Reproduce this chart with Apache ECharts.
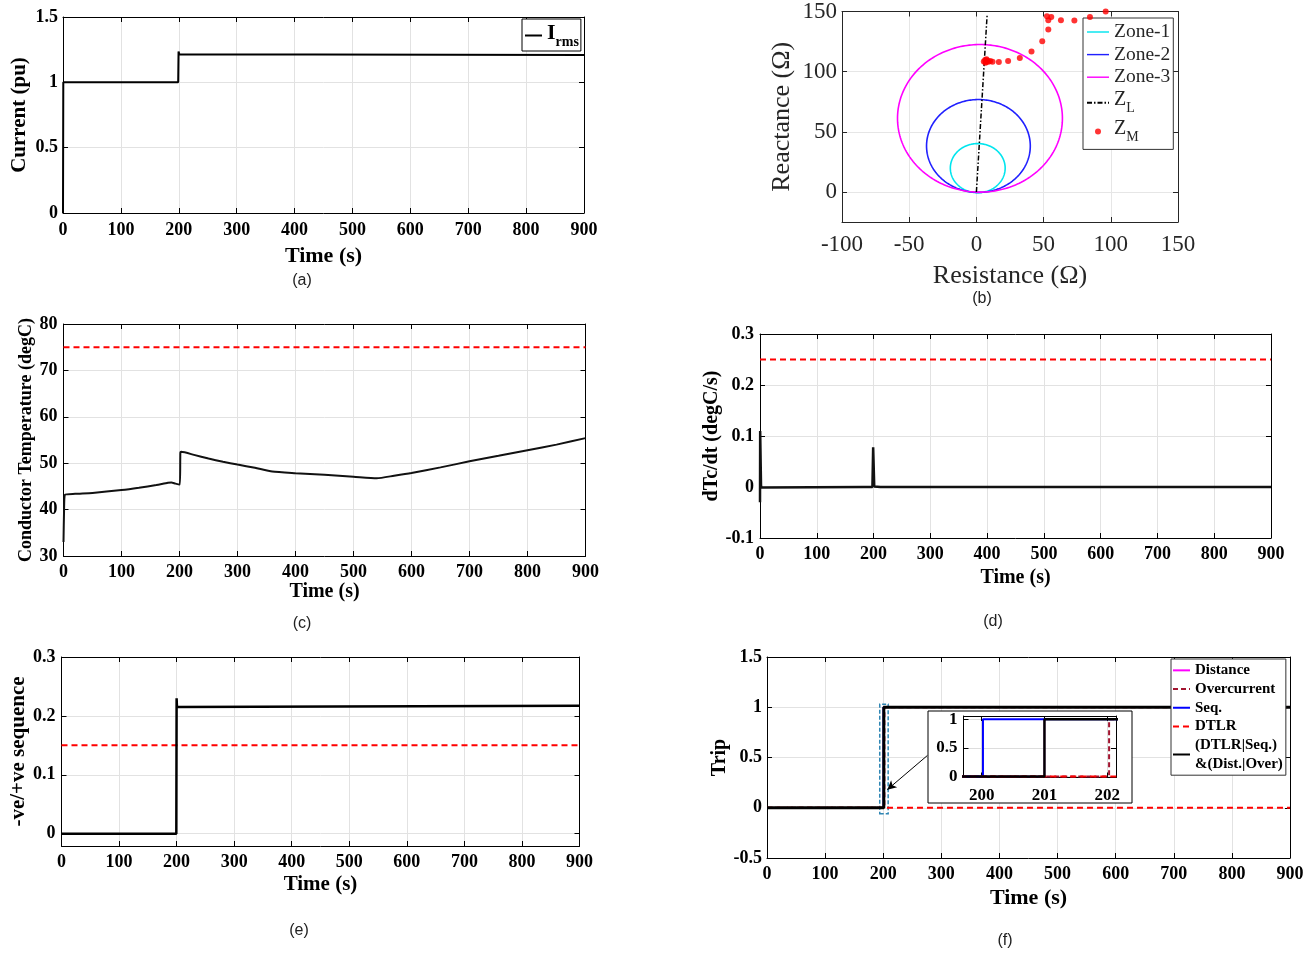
<!DOCTYPE html>
<html><head><meta charset="utf-8">
<style>html,body{margin:0;padding:0;background:#fff}#c{width:1313px;height:955px}</style>
<script src="https://cdn.jsdelivr.net/npm/echarts/dist/echarts.min.js"></script>
</head><body><div id="c"></div>
<script>
// ================= DATA =================
// common time ticks
const timeTicks = [0, 100, 200, 300, 400, 500, 600, 700, 800, 900];
// (a) RMS current
const timeA = [0, 0.5, 199, 199.6, 201, 203, 900];
const currentA = [0, 1, 1, 1.235, 1.215, 1.21, 1.21];
const ticksA = [0, 0.5, 1, 1.5];
// (b) impedance plane: mho zones [centre R, centre X, radius]
const zone1 = [1.0, 19.8, 20.4];
const zone2 = [1.5, 38.2, 38.6];
const zone3 = [2.65, 61.2, 61.35];
const lineR = [0, 8];
const lineX = [0, 147.5];
const measR = [5.5, 6.5, 7.2, 8, 9, 10.3, 7.5, 6.8, 12, 16.7, 23.6, 32.3, 41, 49, 53.5, 53.5, 52.5, 55.7, 62.9, 72.9, 84.5, 96.2];
const measX = [108.5, 109.6, 108, 109.2, 108.3, 108.8, 110.2, 107.4, 108.3, 108, 108.9, 111.4, 116.7, 125.3, 135, 142.8, 146, 145.5, 142.8, 142.5, 145.5, 150];
const ticksBx = [-100, -50, 0, 50, 100, 150];
const ticksBy = [0, 50, 100, 150];
// (c) conductor temperature
const timeC = [0, 1, 2.5, 20, 50, 100, 130, 160, 180, 186, 193, 200.5, 201.5, 203, 225, 250, 275, 300, 330, 360, 400, 450, 500, 540, 570, 600, 650, 700, 750, 800, 850, 900];
const tempC = [33, 40, 43.2, 43.4, 43.6, 44.2, 44.7, 45.3, 45.8, 45.85, 45.6, 45.4, 52.3, 52.45, 51.8, 51.0, 50.3, 49.7, 49.0, 48.2, 47.85, 47.5, 47.1, 46.75, 47.3, 47.9, 49.1, 50.4, 51.6, 52.8, 54.0, 55.4];
const tempLimit = 75;
const ticksC = [30, 40, 50, 60, 70, 80];
// (d) dTc/dt
const timeD = [0, 0.3, 0.8, 1.8, 2.6, 4, 183, 186, 190, 198, 199.3, 200.2, 201.2, 204, 212, 900];
const rateD = [-0.03, 0.11, 0.11, 0.003, -0.001, 0, 0, -0.001, 0, 0, 0.078, 0.078, 0.001, -0.001, 0, 0];
const rateLimit = 0.25;
const ticksD = [-0.1, 0, 0.1, 0.2, 0.3];
// (e) negative / positive sequence ratio
const timeE = [0, 199.5, 200, 200.6, 201.5, 900];
const seqE = [0, 0, 0.23, 0.215, 0.217, 0.217];
const seqLimit = 0.15;
const ticksE = [0, 0.1, 0.2, 0.3];
// (f) trip signals
const tDist = [0, 201, 201, 900],      vDist = [0, 0, 1, 1];
const tOver = [0, 202.03, 202.03, 900], vOver = [0, 0, 1, 1];
const tSeq = [0, 200.02, 200.02, 900],  vSeq = [0, 0, 1, 1];
const tDtlr = [0, 900],                 vDtlr = [0, 0];
const tComb = [0, 201, 201, 900],       vComb = [0, 0, 1, 1];
const ticksF = [-0.5, 0, 0.5, 1, 1.5];
const insetTicksX = [200, 201, 202];
const insetTicksY = [0, 0.5, 1];
const zoomBoxT = [194, 208.5], zoomBoxV = [-0.06, 1.03];
const arrowFrom = [276, 0.52], arrowTo = [207, 0.18];

// ================= CHART =================
const SERIF = '"Liberation Serif","Times New Roman",serif';
const SANS = '"Liberation Sans",Arial,sans-serif';
const chart = echarts.init(document.getElementById('c'), null, {width:1313, height:955});
const o = {backgroundColor:'#fff', animation:false, grid:[], xAxis:[], yAxis:[], series:[], legend:[], graphic:[]};
const zip = (a, b) => a.map((v, i) => [v, b[i]]);

function panel(p) {
  const gi = o.grid.length;
  o.grid.push({left:p.left, top:p.top, width:p.width, height:p.height, show:false});
  const xi = o.xAxis.length, yi = o.yAxis.length;
  const color = p.color || '#000', frame = p.frame || '#000';
  const w = p.weight || 'bold', f = p.font || SERIF, z = p.z || 0;
  const lab = {fontFamily:f, fontWeight:w, fontSize:p.tick, color:color};
  const nm = s => ({fontFamily:f, fontWeight:w, fontSize:s, color:color});
  const line = {show:true, onZero:false, lineStyle:{color:frame, width:1}};
  const tick = v => ({show:true, inside:true, length:5, customValues:v, lineStyle:{color:frame, width:1}});
  const split = {show:true, lineStyle:{color:p.gridColor || '#e2e2e2', width:1}};
  o.xAxis.push({type:'value', gridIndex:gi, z:z, min:p.xr[0], max:p.xr[1], position:'bottom', axisLine:line, axisTick:tick(p.xt),
    axisLabel:Object.assign({margin:p.xm, customValues:p.xt}, lab), splitLine:split,
    name:p.xn || '', nameLocation:'middle', nameGap:p.xng, nameTextStyle:nm(p.xns)});
  o.xAxis.push({type:'value', gridIndex:gi, z:z, min:p.xr[0], max:p.xr[1], position:'top', axisLine:line, axisTick:tick(p.xt),
    axisLabel:{show:false}, splitLine:{show:false}});
  o.yAxis.push({type:'value', gridIndex:gi, z:z, min:p.yr[0], max:p.yr[1], position:'left', axisLine:line, axisTick:tick(p.yt),
    axisLabel:Object.assign({margin:p.ym, customValues:p.yt}, lab), splitLine:split,
    name:p.yn || '', nameLocation:'middle', nameGap:p.yng, nameTextStyle:nm(p.yns)});
  o.yAxis.push({type:'value', gridIndex:gi, z:z, min:p.yr[0], max:p.yr[1], position:'right', axisLine:line, axisTick:tick(p.yt),
    axisLabel:{show:false}, splitLine:{show:false}});
  return {x:xi, y:yi};
}
function ln(ax, name, xs, ys, style, extra) {
  o.series.push(Object.assign({type:'line', name:name, xAxisIndex:ax.x, yAxisIndex:ax.y, data:zip(xs, ys),
    symbol:'none', showSymbol:false, silent:true, lineStyle:style, itemStyle:{color:style.color}}, extra || {}));
}
const red = {color:'#ff0000', width:2, type:[6, 4]};

// ---- (a)
const A = panel({left:63, top:17, width:521, height:196, xr:[0, 900], xt:timeTicks, yr:[0, 1.5], yt:ticksA,
  tick:18, xm:8, ym:5, xn:'Time (s)', xng:32, xns:22, yn:'Current (pu)', yng:33, yns:21});
ln(A, 'I_rms', timeA, currentA, {color:'#000', width:2});

// ---- (b)
const B = panel({left:842, top:11, width:336, height:211, xr:[-100, 150], xt:ticksBx, yr:[-25, 150], yt:ticksBy,
  tick:23, weight:'normal', color:'#262626', frame:'#262626', gridColor:'#e6e6e6', xm:11, ym:5,
  xn:'Resistance (Ω)', xng:41, xns:26, yn:'Reactance (Ω)', yng:47, yns:26});
function zoneSeries(name, color, c) {
  o.series.push({type:'custom', name:name, xAxisIndex:B.x, yAxisIndex:B.y, data:[c], itemStyle:{color:color}, silent:true, z:3,
    encode:{x:0, y:1},
    renderItem:function (params, api) {
      const cx = api.value(0), cy = api.value(1), r = api.value(2), pts = [];
      for (let k = 0; k <= 240; k++) { const a = k / 240 * 2 * Math.PI; pts.push(api.coord([cx + r * Math.cos(a), cy + r * Math.sin(a)])); }
      return {type:'polyline', shape:{points:pts}, style:{stroke:color, lineWidth:1.6, fill:null}};
    }});
}
zoneSeries('Zone-1', '#00e5ee', zone1);
zoneSeries('Zone-2', '#2020ff', zone2);
zoneSeries('Zone-3', '#ff00ff', zone3);
ln(B, 'Z_L', lineR, lineX, {color:'#000', width:1.5, type:[5, 2, 1.5, 2]}, {z:4});
o.series.push({type:'scatter', name:'Z_M', xAxisIndex:B.x, yAxisIndex:B.y, data:zip(measR, measX), symbol:'circle', symbolSize:6,
  itemStyle:{color:'#ff0000'}, silent:true, z:5, clip:false});

// ---- (c)
const C = panel({left:63.5, top:324, width:522, height:232, xr:[0, 900], xt:timeTicks, yr:[30, 80], yt:ticksC,
  tick:18, xm:7, ym:6, xn:'Time (s)', xng:25, xns:20, yn:'Conductor Temperature (degC)', yng:26, yns:18});
ln(C, 'limC', [0, 900], [tempLimit, tempLimit], red);
ln(C, 'Tc', timeC, tempC, {color:'#111', width:2}, {smooth:0.2});

// ---- (d)
const D = panel({left:760, top:334, width:511, height:204, xr:[0, 900], xt:timeTicks, yr:[-0.1, 0.3], yt:ticksD,
  tick:18, xm:7, ym:6, xn:'Time (s)', xng:30, xns:20, yn:'dTc/dt (degC/s)', yng:36, yns:20});
ln(D, 'limD', [0, 900], [rateLimit, rateLimit], red);
ln(D, 'dTc', timeD, rateD, {color:'#111', width:2.5});

// ---- (e)
const E = panel({left:61.5, top:657, width:518, height:189, xr:[0, 900], xt:timeTicks, yr:[-0.021, 0.3], yt:ticksE,
  tick:18, xm:7, ym:6, xn:'Time (s)', xng:28, xns:21, yn:'-ve/+ve sequence', yng:32, yns:21});
ln(E, 'limE', [0, 900], [seqLimit, seqLimit], red);
ln(E, 'seq', timeE, seqE, {color:'#000', width:2.5});

// ---- (f)
const F = panel({left:767, top:657, width:523, height:201, xr:[0, 900], xt:timeTicks, yr:[-0.5, 1.5], yt:ticksF,
  tick:18, xm:7, ym:5, xn:'Time (s)', xng:29, xns:22, yn:'Trip', yng:37, yns:20});
const stDist = {color:'#ff00ff', width:1.5};
const stOver = {color:'#a2142f', width:2, type:[5, 3]};
const stSeq = {color:'#0000ff', width:1.5};
const stDtlr = {color:'#ff0000', width:2, type:[6, 4]};
const stComb = {color:'#000', width:3};
ln(F, 'Distance', tDist, vDist, stDist);
ln(F, 'Overcurrent', tOver, vOver, stOver);
ln(F, 'Seq.', tSeq, vSeq, stSeq);
ln(F, 'DTLR', tDtlr, vDtlr, stDtlr);
ln(F, 'combo', tComb, vComb, stComb, {
  markArea:{silent:true, itemStyle:{color:'rgba(0,0,0,0)', borderColor:'#2f86b4', borderWidth:1.5, borderType:[4, 2]},
    data:[[{coord:[zoomBoxT[0], zoomBoxV[0]]}, {coord:[zoomBoxT[1], zoomBoxV[1]]}]]},
  markLine:{silent:true, symbol:['none', 'arrow'], symbolSize:[7, 9], label:{show:false}, lineStyle:{color:'#000', width:1, type:'solid'},
    data:[[{coord:arrowFrom}, {coord:arrowTo}]]}
});

// ---- inset of (f)
o.graphic.push({type:'rect', z:10, shape:{x:928, y:711, width:204, height:92}, style:{fill:'#fff', stroke:'#000', lineWidth:1}});
const G = panel({left:963.5, top:716, width:152.5, height:61.5, xr:[199.71, 202.14], xt:insetTicksX, yr:[-0.018, 1.058], yt:insetTicksY,
  tick:17, xm:10, ym:6, z:11, gridColor:'#dddddd'});
const zi = {z:12};
ln(G, 'Distance', tDist, vDist, stDist, zi);
ln(G, 'Overcurrent', tOver, vOver, stOver, zi);
ln(G, 'Seq.', tSeq, vSeq, {color:'#0000ff', width:2}, zi);
ln(G, 'DTLR', tDtlr, vDtlr, stDtlr, zi);
ln(G, 'combo', tComb, vComb, {color:'#000', width:2.5}, zi);

// ---- legends
const noDot = {opacity:0};
o.legend.push({data:[{name:'I_rms', itemStyle:noDot}], left:522, top:19, orient:'vertical', padding:[3, 2, 2, 2], itemWidth:17, itemHeight:6,
  backgroundColor:'#fff', borderColor:'#000', borderWidth:1, selectedMode:false,
  formatter:() => '{i|I}{s|rms}',
  textStyle:{rich:{
    i:{fontFamily:SERIF, fontWeight:'bold', fontSize:22, lineHeight:22, verticalAlign:'top', color:'#000'},
    s:{fontFamily:SERIF, fontWeight:'bold', fontSize:14, lineHeight:27, verticalAlign:'bottom', color:'#000'}}}});
const pathIcon = 'path://M0 0H40V2.6H0Z';
o.legend.push({data:[{name:'Zone-1', icon:pathIcon}, {name:'Zone-2', icon:pathIcon}, {name:'Zone-3', icon:pathIcon},
    {name:'Z_L', itemStyle:noDot}, 'Z_M'],
  left:1083, top:18, orient:'vertical', padding:[4, 3, 5, 3], itemWidth:22, itemHeight:6, itemGap:2.6,
  backgroundColor:'#fff', borderColor:'#333', borderWidth:1, selectedMode:false,
  formatter:n => ({Z_L:'{z|Z}{sub|L}', Z_M:'{z|Z}{sub|M}'}[n] || '{n|' + n + '}'),
  textStyle:{rich:{
    n:{fontFamily:SERIF, fontSize:19.5, lineHeight:19, color:'#262626'},
    z:{fontFamily:SERIF, fontSize:20, lineHeight:20, verticalAlign:'top', color:'#262626'},
    sub:{fontFamily:SERIF, fontSize:14, lineHeight:26, verticalAlign:'bottom', color:'#262626'}}}});
o.legend.push({data:['Distance', 'Overcurrent', 'Seq.', 'DTLR', 'combo'].map(n => ({name:n, itemStyle:noDot})), left:1171, top:659, orient:'vertical',
  padding:[2, 3, 2, 1], itemWidth:17, itemHeight:6, itemGap:0,
  backgroundColor:'#fff', borderColor:'#333', borderWidth:1, selectedMode:false,
  formatter:n => n === 'combo' ? '(DTLR|Seq.)\n&(Dist.|Over)' : n,
  textStyle:{fontFamily:SERIF, fontWeight:'bold', fontSize:15, lineHeight:18.7, color:'#000'}});

// ---- captions
[['(a)', 302, 281], ['(b)', 982, 299], ['(c)', 302, 624], ['(d)', 993, 622], ['(e)', 299, 931], ['(f)', 1005, 941]].forEach(c => {
  o.graphic.push({type:'text', x:c[1], y:c[2], style:{text:c[0], fontFamily:SANS, fontSize:16, fill:'#222', align:'center', verticalAlign:'middle'}});
});

chart.setOption(o);
</script></body></html>
